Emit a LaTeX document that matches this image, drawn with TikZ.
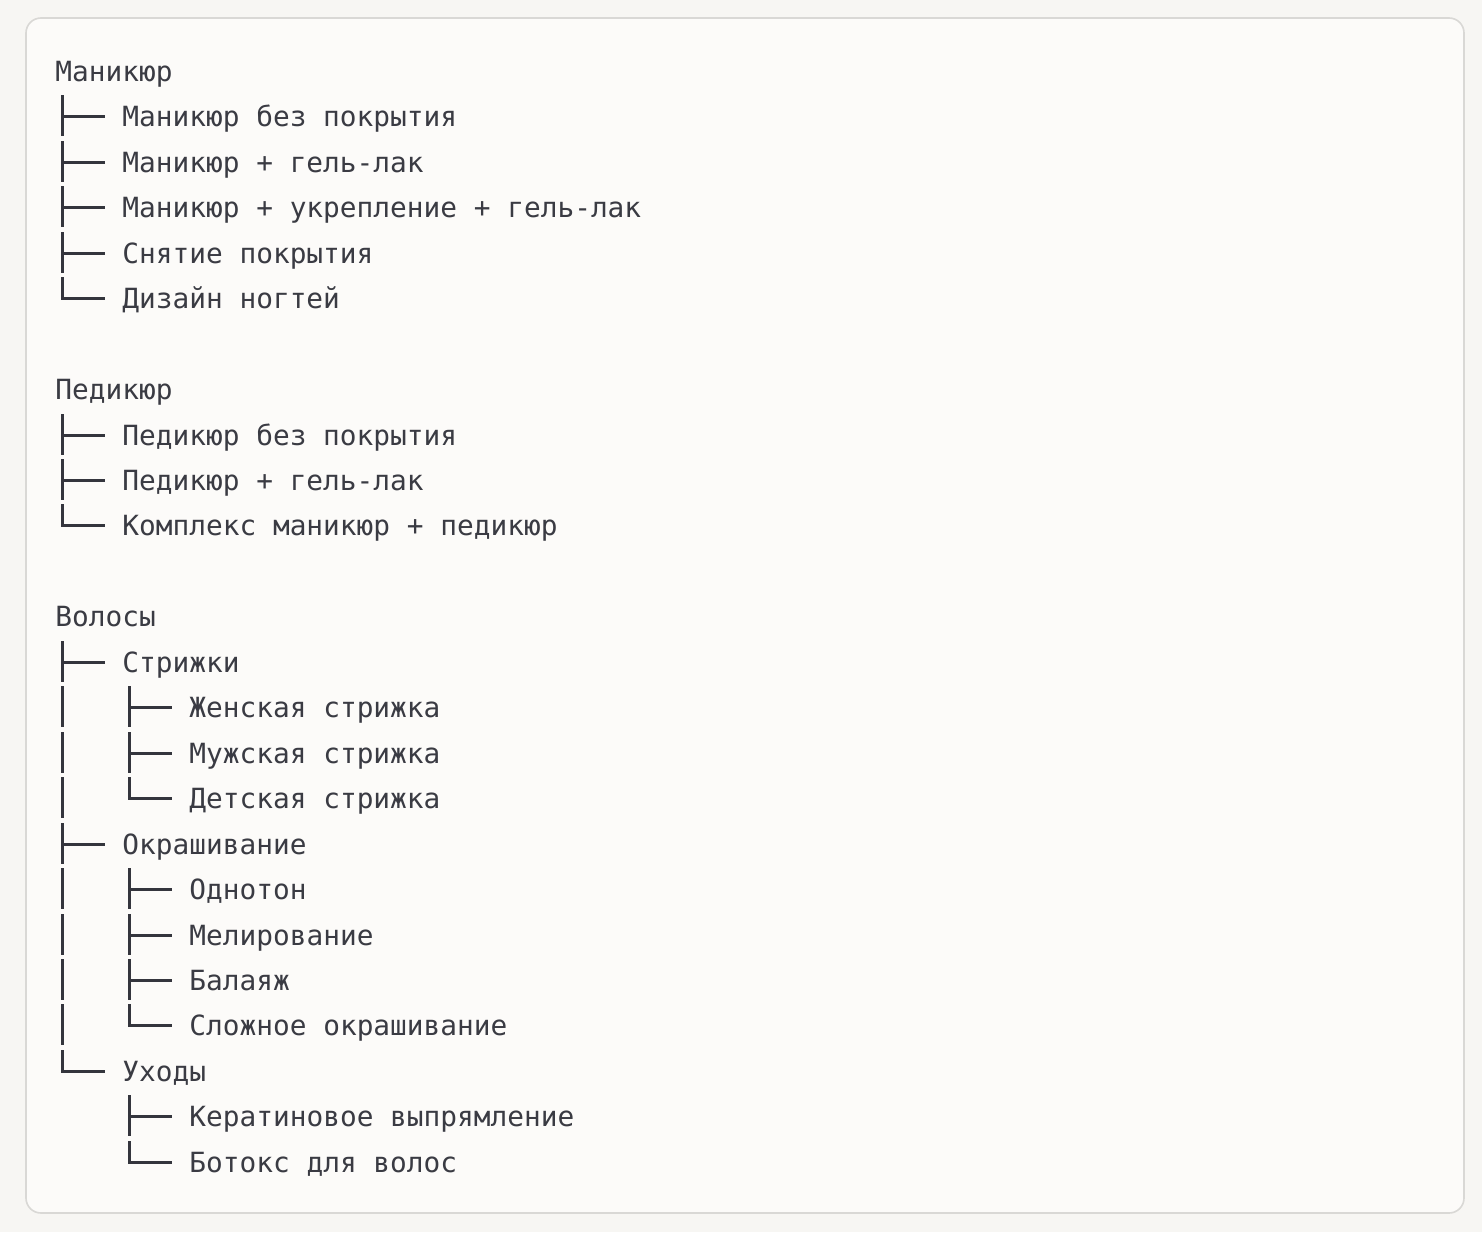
\documentclass[tikz,border=0pt]{standalone}
\usepackage{fontspec}
\setmonofont{DejaVu Sans Mono}
\usetikzlibrary{calc}
\definecolor{bgout}{HTML}{F7F6F3}
\definecolor{bgin}{HTML}{FCFBF9}
\definecolor{framec}{HTML}{D9D8D5}
\definecolor{ink}{HTML}{3A3B43}
\definecolor{treeink}{HTML}{34353D}
\tikzset{
  lbl/.style={font=\ttfamily\fontsize{13.9}{16}\selectfont, text=ink, inner sep=0pt, anchor=base west},
  branch/.style={draw=treeink, line width=1.5pt},
}
\begin{document}
\begin{tikzpicture}[x=0.5pt,y=-0.5pt]
\useasboundingbox (0,0) rectangle (1482,1232);
\fill[bgout] (0,0) rectangle (1482,1232);
\draw[framec, fill=bgin, rounded corners=7.5pt, line width=0.8pt] (26,18) rectangle (1464,1213);
% headings
\foreach \k/\nm/\tx in {0/h1/Маникюр, 7/h2/Педикюр, 12/h3/Волосы}{
  \pgfmathsetmacro\yc{round(71+45.45*\k)}
  \node[lbl] (\nm) at (55,\yc+10) {\tx};
}
% items
\foreach \k/\lv/\ty/\nm/\tx in {
  1/1/t/m1/Маникюр без покрытия,
  2/1/t/m2/Маникюр + гель-лак,
  3/1/t/m3/Маникюр + укрепление + гель-лак,
  4/1/t/m4/Снятие покрытия,
  5/1/l/m5/Дизайн ногтей,
  8/1/t/p1/Педикюр без покрытия,
  9/1/t/p2/Педикюр + гель-лак,
  10/1/l/p3/Комплекс маникюр + педикюр,
  13/1/t/v1/Стрижки,
  14/2/t/v11/Женская стрижка,
  15/2/t/v12/Мужская стрижка,
  16/2/l/v13/Детская стрижка,
  17/1/t/v2/Окрашивание,
  18/2/t/v21/Однотон,
  19/2/t/v22/Мелирование,
  20/2/t/v23/Балаяж,
  21/2/l/v24/Сложное окрашивание,
  22/1/l/v3/Уходы,
  23/2/t/v31/Кератиновое выпрямление,
  24/2/l/v32/Ботокс для волос}{
  \pgfmathsetmacro\yc{round(71+45.45*\k)}
  \pgfmathsetmacro\xs{55+67*\lv}
  \node[lbl] (\nm) at (\xs,\yc+10) {\tx};
  \if t\ty
    \draw[branch] ($(\nm.base west)+(-60,-31)$) -- ($(\nm.base west)+(-60,10)$);
    \draw[branch] ($(\nm.base west)+(-60,-10)$) -- ($(\nm.base west)+(-17,-10)$);
  \else
    \draw[branch] ($(\nm.base west)+(-60,-31)$) -- ($(\nm.base west)+(-60,-10)$) -- ($(\nm.base west)+(-17,-10)$);
  \fi
}
% continuation bars under Волосы
\foreach \k in {14,15,16,18,19,20,21}{
  \pgfmathsetmacro\yc{round(71+45.45*\k)}
  \draw[branch] (62,\yc-21) -- (62,\yc+20);
}
\end{tikzpicture}
\end{document}
